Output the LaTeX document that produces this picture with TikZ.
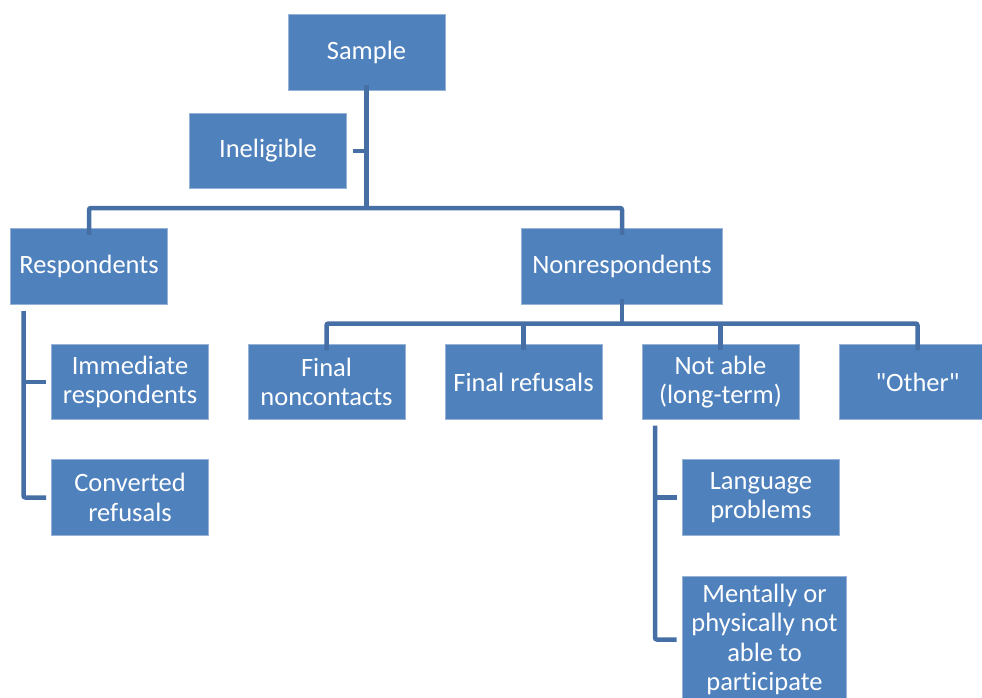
\documentclass[tikz,border=0pt]{standalone}
\usepackage{fontspec}
\setmainfont{Carlito}[Ligatures={TeXOff,NoCommon}]
\definecolor{boxblue}{RGB}{79,129,189}
\definecolor{boxedge}{RGB}{150,178,214}
\definecolor{linkblue}{RGB}{70,112,165}
\begin{document}
\begin{tikzpicture}[x=1pt,y=-1pt,
  boxnode/.style={rectangle, fill=boxblue, draw=boxedge, line width=0.8pt,
    minimum width=157pt, minimum height=75.5pt, inner sep=2pt, align=center,
    text=white, font=\fontsize{26.5}{29.5}\selectfont},
  conn/.style={draw=linkblue, line width=4.5pt, rounded corners=2pt}]
\useasboundingbox (0,0) rectangle (982,698);
\begin{scope}
\clip (0,0) rectangle (982,698);
\node[boxnode] (sample) at (366.5,52.5) {Sample};
\node[boxnode] (inel) at (268,151) {Ineligible};
\node[boxnode] (resp) at (89,266.5) {Respondents};
\node[boxnode, minimum width=201pt] (nonresp) at (622,266.5) {Nonrespondents};
\node[boxnode] (immed) at (130,382) {Immediate\\respondents};
\node[boxnode] (conv) at (130,497.5) {Converted\\refusals};
\node[boxnode] (noncont) at (326.5,382) {Final\\noncontacts};
\node[boxnode] (refus) at (523.5,382) {Final refusals};
\node[boxnode] (notable) at (720.5,382) {Not able\\(long-term)};
\node[boxnode] (other) at (917.5,382) {"Other"};
\node[boxnode] (lang) at (761,497.5) {Language\\problems};
\node[boxnode, minimum width=164pt, minimum height=127pt] (ment) at (764.5,639.5) {Mentally or\\physically not\\able to\\participate};

\coordinate (bar1) at (366.5,208);
\coordinate (bar2) at (622,323.5);
\coordinate (rv) at (23.5,0);
\coordinate (nv) at (655,0);

% Sample trunk and Ineligible
\draw[conn] ([yshift=6pt]sample.south) -- (sample.south |- bar1);
\draw[conn] ([xshift=6pt]inel.east) -- (inel.east -| sample.south);
\draw[conn] ([yshift=-6.5pt]resp.north) -- (resp.north |- bar1) -- (nonresp.north |- bar1) -- ([yshift=-6.5pt]nonresp.north);

% Respondents branch
\draw[conn] (rv |- resp.south) ++(0,6.5) -- (rv |- conv.west) -- ([xshift=-5pt]conv.west);
\draw[conn] (rv |- immed.west) -- ([xshift=-5pt]immed.west);

% Nonrespondents branch
\draw[conn] ([yshift=6pt]nonresp.south) -- (bar2);
\draw[conn] ([yshift=-6.5pt]noncont.north) -- (noncont.north |- bar2) -- (other.north |- bar2) -- ([yshift=-6.5pt]other.north);
\draw[conn] (refus.north |- bar2) -- ([yshift=-6.5pt]refus.north);
\draw[conn] (notable.north |- bar2) -- ([yshift=-6.5pt]notable.north);

% Not able branch
\draw[conn] (nv |- notable.south) ++(0,5.5) -- (nv |- ment.west) -- ([xshift=-5.5pt]ment.west);
\draw[conn] (nv |- lang.west) -- ([xshift=-5.5pt]lang.west);
\end{scope}
\end{tikzpicture}
\end{document}
